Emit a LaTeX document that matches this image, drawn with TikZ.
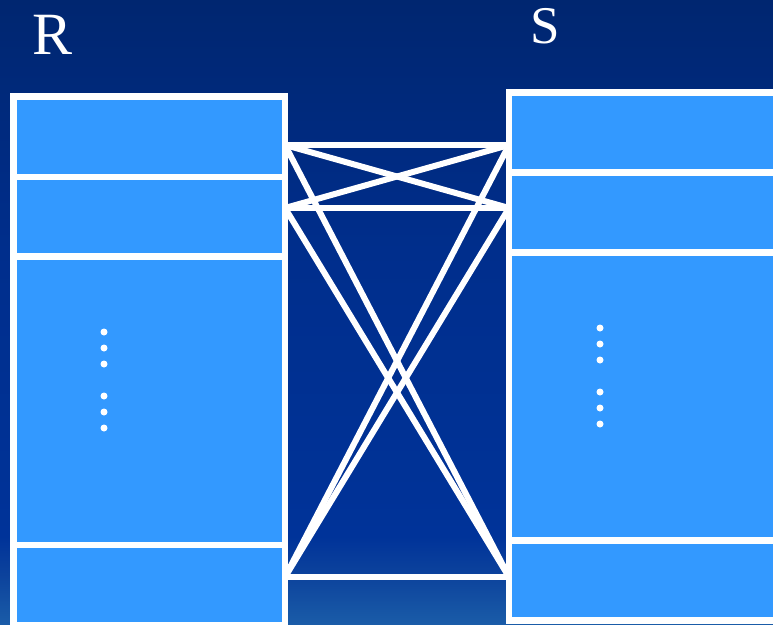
\documentclass[tikz,border=0pt]{standalone}
\usepackage{fontspec}
\setmainfont{Liberation Serif}
\definecolor{cellblue}{HTML}{3399FF}
\definecolor{bgA}{RGB}{26,92,168}
\definecolor{bgB}{RGB}{12,66,156}
\definecolor{bgC}{RGB}{0,51,153}
\definecolor{bgD}{RGB}{0,46,140}
\definecolor{bgE}{RGB}{0,38,112}
\pgfdeclareverticalshading{bgshade}{100bp}{color(0bp)=(bgA); color(25bp)=(bgA); color(29bp)=(bgB); color(32bp)=(bgC); color(55bp)=(bgD); color(75bp)=(bgE); color(100bp)=(bgE)}
\tikzset{
  tab/.style={draw=none, fill=white, inner sep=0pt, outer sep=0pt, minimum width=#1},
  cell/.style={draw=none, fill=cellblue, inner sep=0pt, outer sep=0pt},
  link/.style={draw=white, line width=6pt},
  lbl/.style={text=white, inner sep=0pt},
  dot/.style={fill=white}
}
\begin{document}
\begin{tikzpicture}[x=1pt,y=-1pt]
\useasboundingbox (0,0) rectangle (773,624);
\clip (0,0) rectangle (773,624);
\shade[shading=bgshade] (0,0) rectangle (773,624);
% labels
\node[lbl, font=\fontsize{60}{60}\selectfont] (labR) at (53,35) {R};
\node[lbl, font=\fontsize{53}{53}\selectfont] (labS) at (545,26) {S};
% connector corners
\coordinate (a1) at (285,145);
\coordinate (a2) at (285,208);
\coordinate (b1) at (509,145);
\coordinate (b2) at (509,208);
\coordinate (cl) at (285,577);
\coordinate (cr) at (509,577);
% connectors
\draw[link] (a1) -- (b1);
\draw[link] (a2) -- (b2);
\draw[link] (cl) -- (cr);
\draw[link] (a1) -- (b2);
\draw[link] (a2) -- (b1);
\draw[link] (a1) -- (cr);
\draw[link] (a2) -- (cr);
\draw[link] (b1) -- (cl);
\draw[link] (b2) -- (cl);
% table R
\node[tab=278pt, minimum height=537pt] (Rt) at (149,361.5) {};
\node[cell, minimum width=265pt, minimum height=74pt] (r1) at (149.5,137) {};
\node[cell, minimum width=265pt, minimum height=73pt] (r2) at (149.5,216.5) {};
\node[cell, minimum width=265pt, minimum height=282pt] (r3) at (149.5,401) {};
\node[cell, minimum width=265pt, minimum height=74pt] (r4) at (149.5,585) {};
% table S
\node[tab=284pt, minimum height=535pt] (St) at (648,356.5) {};
\node[cell, minimum width=278pt, minimum height=73pt] (s1) at (651,132.5) {};
\node[cell, minimum width=278pt, minimum height=73pt] (s2) at (651,212.5) {};
\node[cell, minimum width=278pt, minimum height=281pt] (s3) at (651,396.5) {};
\node[cell, minimum width=278pt, minimum height=73pt] (s4) at (651,580.5) {};
% dots
\foreach \yy in {332,348,364,396,412,428} \fill[dot] (104,\yy) circle (3.5);
\foreach \yy in {328,344,360,392,408,424} \fill[dot] (600,\yy) circle (3.5);
\end{tikzpicture}
\end{document}
